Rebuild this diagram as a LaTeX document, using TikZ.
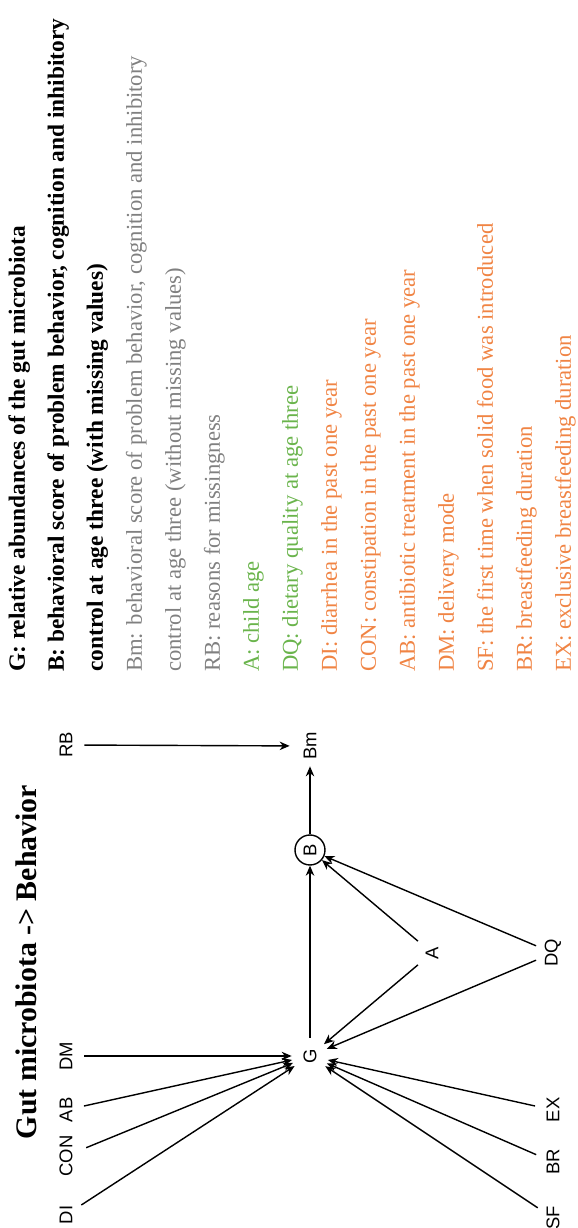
\documentclass[tikz,border=0pt]{standalone}
\usepackage{fontspec}
\setmainfont{Liberation Serif}
\setsansfont{Liberation Sans}
\usepackage{xcolor}
\definecolor{figgray}{RGB}{128,128,128}
\definecolor{figgreen}{RGB}{106,180,76}
\definecolor{figorange}{RGB}{240,132,68}
\usepackage{tikz}
\usetikzlibrary{arrows.meta}

\begin{document}
\begin{tikzpicture}[x=0.02cm,y=0.02cm,
  var/.style={circle,inner sep=0pt,minimum size=0.72cm,font=\sffamily\fontsize{10.5}{12}\selectfont},
  edge/.style={line width=0.8pt,-{Stealth[length=2mm,width=1.7mm]}},
  legend/.style={anchor=base west,font=\fontsize{12.9}{14}\selectfont},
  leghead/.style={font=\bfseries\fontsize{13.3}{15}\selectfont},
  leggray/.style={text=figgray},
  leggreen/.style={text=figgreen},
  legorange/.style={text=figorange}]
\begin{scope}[rotate=90,transform shape]
\useasboundingbox (0,0) rectangle (1228,578);
% title
\node[anchor=base,font=\bfseries\fontsize{17}{20}\selectfont] (title) at (266,541) {Gut microbiota -> Behavior};
% variables
\node[var] (DI) at (13,512) {DI};
\node[var] (CON) at (72,512) {CON};
\node[var] (AB) at (118,512) {AB};
\node[var] (DM) at (172,512) {DM};
\node[var] (RB) at (483,512) {RB};
\node[var] (G) at (172,268) {G};
\node[var,draw,line width=0.8pt,minimum size=0.6cm] (B) at (378,268) {B};
\node[var,minimum size=0.8cm] (Bm) at (482,268) {Bm};
\node[var] (A) at (275,146) {A};
\node[var] (DQ) at (275,25) {DQ};
\node[var] (EX) at (118,25) {EX};
\node[var] (BR) at (66,25) {BR};
\node[var] (SF) at (10,25) {SF};
% edges
\foreach \s in {DI,CON,AB,DM,SF,BR,EX,A,DQ}
  \draw[edge] (\s) -- (G);
\foreach \s in {A,DQ}
  \draw[edge] (\s) -- (B);
\draw[edge] (G) -- (B);
\draw[edge] (B) -- (Bm);
\draw[edge] (RB) -- (Bm);
% legend
\foreach \f/\t [count=\k from 0] in {
  leghead/{G: relative abundances of the gut microbiota},
  leghead/{B: behavioral score of problem behavior, cognition and inhibitory},
  leghead/{control at age three (with missing values)},
  leggray/{Bm: behavioral score of problem behavior, cognition and inhibitory},
  leggray/{control at age three (without missing values)},
  leggray/{RB: reasons for missingness},
  leggreen/{A: child age},
  leggreen/{DQ: dietary quality at age three},
  legorange/{DI: diarrhea in the past one year},
  legorange/{CON: constipation in the past one year},
  legorange/{AB: antibiotic treatment in the past one year},
  legorange/{DM: delivery mode},
  legorange/{SF: the first time when solid food was introduced},
  legorange/{BR: breastfeeding duration},
  legorange/{EX: exclusive breastfeeding duration}}
  \node[legend,\f] (leg\k) at (550,{553-39*\k}) {\t};
\end{scope}
\end{tikzpicture}
\end{document}
